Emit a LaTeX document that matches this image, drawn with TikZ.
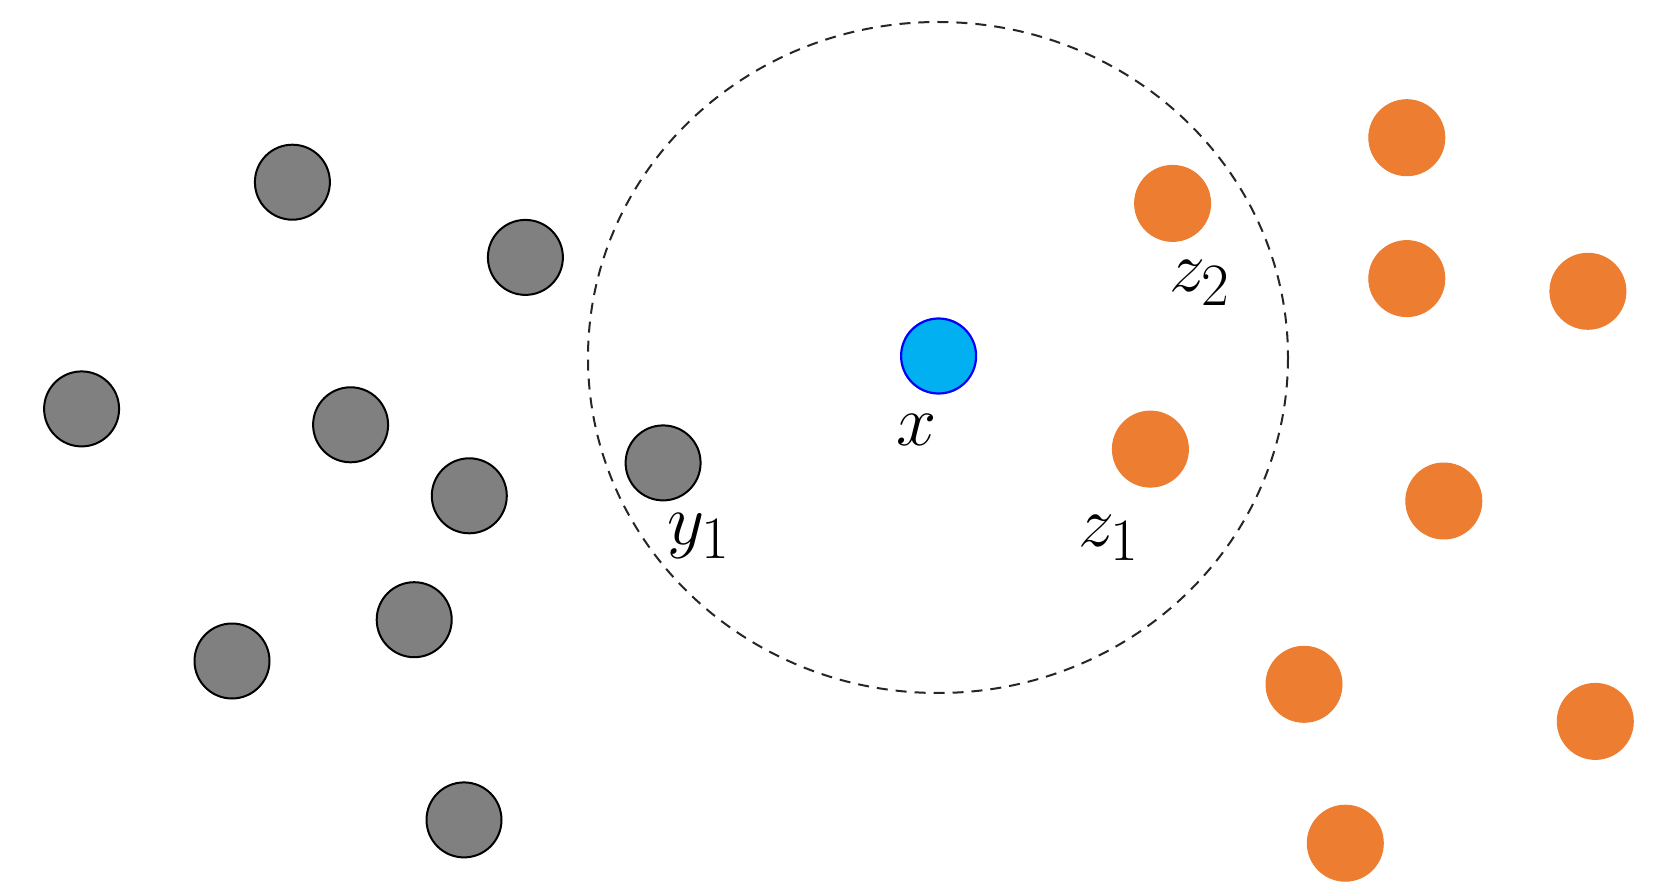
\documentclass[tikz,border=0pt]{standalone}
\definecolor{dotgray}{HTML}{808080}
\definecolor{dotorange}{HTML}{ED7D31}
\definecolor{dotblue}{HTML}{00B0F0}
\tikzset{
  graydot/.style={circle, draw=black, line width=1pt, fill=dotgray, minimum size=37.5pt, inner sep=0pt},
  orangedot/.style={circle, draw=dotorange, line width=0.5pt, fill=dotorange, minimum size=38pt, inner sep=0pt},
  bluedot/.style={circle, draw=blue, line width=1.1pt, fill=dotblue, minimum size=37.5pt, inner sep=0pt},
  lbl/.style={inner sep=0pt, font=\Huge, scale=1.45},
  region/.style={draw=black!85, line width=1pt, dash pattern=on 5.5pt off 4pt}
}
\begin{document}
\begin{tikzpicture}[x=0.5pt, y=-0.5pt]
\useasboundingbox (0,0) rectangle (1661,882);
\draw[region] (938,357.5) ellipse [x radius=350, y radius=335.5];
% gray points
\node[graydot] (g1) at (292.4,182.2) {};
\node[graydot] (g2) at (525.4,257.4) {};
\node[graydot] (g3) at (81.6,408.9) {};
\node[graydot] (g4) at (350.6,424.8) {};
\node[graydot] (g5) at (469.3,495.8) {};
\node[graydot] (y1) at (663.1,462.9) {};
\node[graydot] (g7) at (414.2,619.7) {};
\node[graydot] (g8) at (232.0,661.0) {};
\node[graydot] (g9) at (464.0,819.9) {};
% orange points
\node[orangedot] (o1) at (1406.8,137.7) {};
\node[orangedot] (z2) at (1172.6,203.4) {};
\node[orangedot] (o3) at (1406.8,278.6) {};
\node[orangedot] (o4) at (1587.9,291.3) {};
\node[orangedot] (z1) at (1150.4,449.1) {};
\node[orangedot] (o6) at (1443.8,501.0) {};
\node[orangedot] (o7) at (1304.0,684.3) {};
\node[orangedot] (o8) at (1595.3,721.4) {};
\node[orangedot] (o9) at (1345.3,843.2) {};
% query point
\node[bluedot] (x) at (938.6,356) {};
% labels
\node[lbl] (lx) at (917,430) {$x$};
\node[lbl] (ly1) at (699,536) {$y_1$};
\node[lbl] (lz1) at (1109,538) {$z_1$};
\node[lbl] (lz2) at (1200,283) {$z_2$};
\end{tikzpicture}
\end{document}
